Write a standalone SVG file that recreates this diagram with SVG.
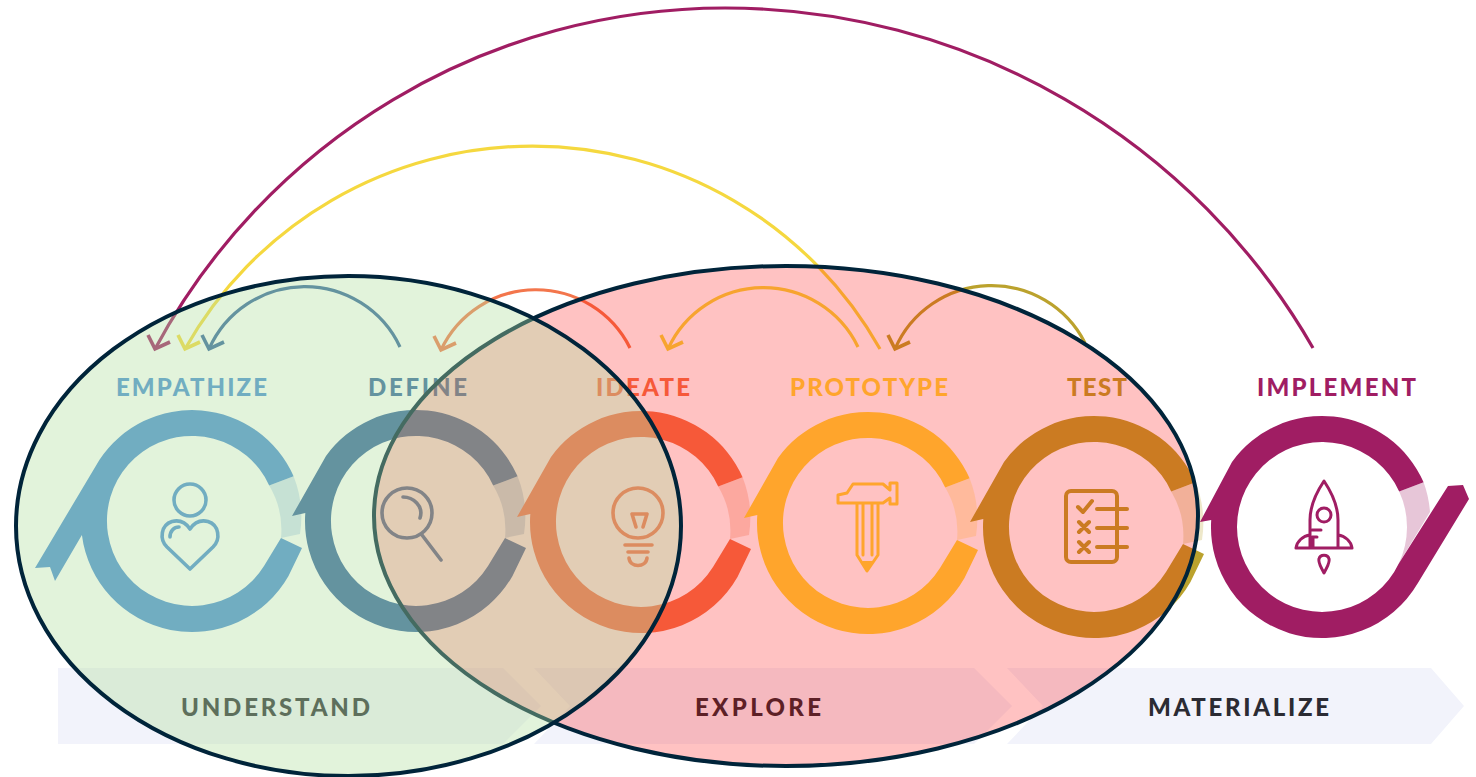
<svg xmlns="http://www.w3.org/2000/svg" width="1476" height="777" viewBox="0 0 1476 777">
<style>
text{font-family:Lato,"Liberation Sans",sans-serif;font-weight:900;font-size:24px}
.arc{fill:none;stroke-width:3.2}
.ah{fill:none;stroke-width:3.6}
.ic{fill:none;stroke-width:3.6;stroke-linecap:round;stroke-linejoin:round;stroke:currentColor}
.lite{opacity:.25}
.c-emp{fill:#4a8ed5;color:#4a8ed5}
.c-def{fill:#34649e;color:#34649e}
.c-ide{fill:#f3764c;color:#f3764c}
.c-pro{fill:#ffd93a;color:#ffd93a}
.c-tes{fill:#bba22d;color:#bba22d}
.c-imp{fill:#a01d63;color:#a01d63}
.band{fill:#f2f3fb}
.bt{fill:#2b2b33}
.ell{stroke:#00243a;stroke-width:4}
</style>
<defs>
<path id="ring" d="M101.600,-44.700A111,111 0 0 0 -90,-65L-124,-5L-110.700,-8A111,111 0 0 0 96.500,54.900L110,27L89,17L72,45A85,85 0 1 1 77.200,-35.600Z"/>
<path id="ring-tail" d="M101.600,-44.700A111,111 0 0 0 -92.500,-61.300L-157,47L-142,46L-137,60L-110.100,14.100A111,111 0 0 0 96.500,54.900L110,27L89,17L72,45A85,85 0 1 1 77.200,-35.600Z"/>
<path id="ring-long" d="M101.600,-44.700A111,111 0 0 0 -90,-65L-122,-5L-110.800,-7A111,111 0 0 0 95.600,56.400L147,-28L141,-42L126,-41L76.800,36.400A85,85 0 1 1 77.200,-35.600Z"/>
<path id="gap" d="M101.600,-44.700A111,111 0 0 1 108,13L89,17A87,87 0 0 0 77.200,-35.600Z"/>
<path id="gap-long" d="M101.600,-44.700A111,111 0 0 1 108,-15L76.800,36.400A85,85 0 0 0 77.200,-35.600Z"/>
<marker id="a-imp" markerUnits="userSpaceOnUse" markerWidth="40" markerHeight="40" refX="20" refY="20" orient="0"><path class="ah" stroke="#a01d63" d="M13,6L20,20L35,13"/></marker>
<marker id="a-pro" markerUnits="userSpaceOnUse" markerWidth="40" markerHeight="40" refX="20" refY="20" orient="0"><path class="ah" stroke="#f5d83f" d="M13,6L20,20L35,13"/></marker>
<marker id="a-def" markerUnits="userSpaceOnUse" markerWidth="40" markerHeight="40" refX="20" refY="20" orient="0"><path class="ah" stroke="#34649e" d="M13,6L20,20L35,13"/></marker>
<marker id="a-ide" markerUnits="userSpaceOnUse" markerWidth="40" markerHeight="40" refX="20" refY="20" orient="0"><path class="ah" stroke="#f3764c" d="M13,6L20,20L35,13"/></marker>
<marker id="a-tes" markerUnits="userSpaceOnUse" markerWidth="40" markerHeight="40" refX="20" refY="20" orient="0"><path class="ah" stroke="#bba22d" d="M13,6L20,20L35,13"/></marker>
</defs>
<rect width="1476" height="777" fill="#fff"/>
<g id="phase-understand">
<path class="band" d="M58,668H503L541,706L503,744H58Z"/>
<text class="bt" x="181" y="716" textLength="189" lengthAdjust="spacing">UNDERSTAND</text>
</g>
<g id="phase-explore">
<path class="band" d="M534,668H974L1012,706L974,744H534L570,706Z"/>
<text class="bt" x="695" y="716" textLength="126" lengthAdjust="spacing">EXPLORE</text>
</g>
<g id="phase-materialize">
<path class="band" d="M1007,668H1431L1464,706L1431,744H1007L1043,706Z"/>
<text class="bt" x="1148" y="716" textLength="181" lengthAdjust="spacing">MATERIALIZE</text>
</g>
<g id="node-empathize" class="c-emp">
<text x="116" y="396" textLength="151" lengthAdjust="spacing">EMPATHIZE</text>
<use href="#gap" class="lite" transform="translate(192,521)"/>
<use href="#ring-tail" transform="translate(192,521)"/>
<circle class="ic" cx="190" cy="500" r="16"/>
<path class="ic" d="M190,569L167,547C159,539 161,525 172,521.500C180,519.500 186,523 190,529C194,523 200,519.500 208,521.500C219,525 221,539 213,547Z"/>
<path class="ic" d="M170,537C170,531 174,527 179,527"/>
</g>
<g id="node-define" class="c-def">
<text x="368" y="396" textLength="99" lengthAdjust="spacing">DEFINE</text>
<use href="#gap" class="lite" transform="translate(416,521)"/>
<use href="#ring" transform="translate(416,521)"/>
<circle class="ic" cx="407" cy="513" r="25"/>
<path class="ic" d="M422,535L441,560M403,497C413,497 424,506 420,518"/>
</g>
<g id="node-ideate" class="c-ide">
<text x="596" y="396" textLength="94" lengthAdjust="spacing">IDEATE</text>
<use href="#gap" class="lite" transform="translate(641,522)"/>
<use href="#ring" transform="translate(641,522)"/>
<circle class="ic" cx="638" cy="513" r="25"/>
<path class="ic" d="M625,545H652M628,552H648M629,558C630,568 646,568 647,558M632,514L636,527M647,514L643,527M632,514L647,514"/>
</g>
<g id="node-prototype" class="c-pro">
<text x="790" y="396" textLength="158" lengthAdjust="spacing">PROTOTYPE</text>
<use href="#gap" class="lite" transform="translate(868,523)"/>
<use href="#ring" transform="translate(868,523)"/>
<path class="ic" style="stroke-width:3" d="M838,503V495L847,493L853,484H883L890,490V483H897V504H890V498L883,503ZM857,503V555L867,571L878,555V503M863,503V555M872,503V555"/>
<path d="M862,561H873L867,571Z" fill="currentColor"/>
</g>
<g id="node-test" class="c-tes">
<text x="1067" y="396" textLength="60" lengthAdjust="spacing">TEST</text>
<use href="#gap" class="lite" transform="translate(1094,527)"/>
<use href="#ring" transform="translate(1094,527)"/>
<rect class="ic" style="stroke-width:4" x="1066" y="491" width="51" height="71" rx="5"/>
<path class="ic" style="stroke-width:4" d="M1097,509H1127M1097,528H1127M1097,547H1127M1078,507L1083,512L1092,501M1079,522L1089,532M1089,522L1079,532M1079,542L1089,552M1089,542L1079,552"/>
</g>
<g id="node-implement" class="c-imp">
<text x="1257" y="396" textLength="159" lengthAdjust="spacing">IMPLEMENT</text>
<use href="#gap-long" class="lite" transform="translate(1322,527)"/>
<use href="#ring-long" transform="translate(1322,527)"/>
<path class="ic" style="stroke-width:3" d="M1310,548V520C1310,505 1318,490 1324,481C1330,490 1338,505 1338,520V548M1296,548H1352M1296,548C1297,541 1303,536 1310,535M1352,548C1351,541 1345,536 1338,535M1312,530H1321M1312,537H1317M1313,537V548M1324,573C1320,566 1318,562 1319,559C1320,554 1328,554 1329,559C1330,562 1328,566 1324,573Z"/>
<circle class="ic" style="stroke-width:3" cx="1324" cy="515" r="7"/>
</g>
<g id="connectors">
<path class="arc" stroke="#a01d63" marker-end="url(#a-imp)" d="M1313,348A678,678 0 0 0 725,8A647,647 0 0 0 155,349"/>
<path class="arc" stroke="#f5d83f" marker-end="url(#a-pro)" d="M880,349A399,399 0 0 0 185,349"/>
<path class="arc" stroke="#34649e" marker-end="url(#a-def)" d="M400,347A105,105 0 0 0 209,349"/>
<path class="arc" stroke="#f3764c" marker-end="url(#a-ide)" d="M630,348A105,105 0 0 0 441,350"/>
<path class="arc" stroke="#f5d83f" marker-end="url(#a-pro)" d="M858,347A105,105 0 0 0 668,349"/>
<path class="arc" stroke="#bba22d" marker-end="url(#a-tes)" d="M1085,343A105,105 0 0 0 895,349"/>
</g>
<g id="set-explore"><ellipse class="ell" cx="786" cy="516" rx="412" ry="250" fill="#f00" fill-opacity=".24"/></g>
<g id="set-understand"><ellipse class="ell" cx="348.500" cy="526" rx="332.500" ry="250" fill="#b3e0a0" fill-opacity=".38"/></g>
</svg>
